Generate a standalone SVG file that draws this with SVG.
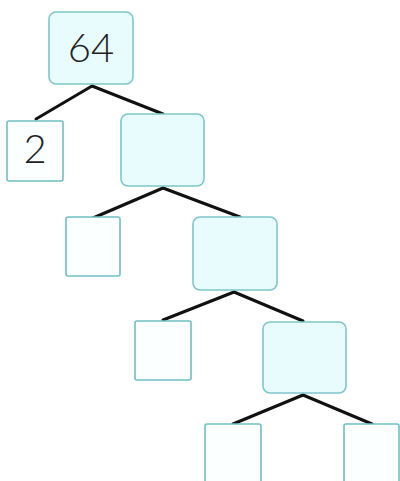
<svg xmlns="http://www.w3.org/2000/svg" width="400" height="481" viewBox="0 0 400 481">
<style>
.big{fill:#e8fbfd;stroke:#7ec6ca;stroke-width:1.6}
.small{fill:#fbffff;stroke:#6fc0c4;stroke-width:1.6}
.edge{stroke:#111;stroke-width:3;stroke-linecap:round;fill:none}
.lbl{font-family:Lato,"Open Sans",sans-serif;font-weight:300;font-size:40px;fill:#222;text-anchor:middle}
</style>
<rect width="400" height="481" fill="#fff"/>
<g id="connectors">
<line class="edge" x1="92" y1="86" x2="36" y2="119"/>
<line class="edge" x1="92" y1="86" x2="163" y2="114"/>
<line class="edge" x1="163" y1="188" x2="93" y2="218"/>
<line class="edge" x1="163" y1="188" x2="240" y2="217"/>
<line class="edge" x1="234" y1="292" x2="163" y2="320"/>
<line class="edge" x1="234" y1="292" x2="303" y2="321"/>
<line class="edge" x1="303" y1="395" x2="233" y2="424"/>
<line class="edge" x1="303" y1="395" x2="372" y2="424"/>
</g>
<g id="n64"><rect class="big" x="49" y="12" width="84" height="72" rx="7"/><text class="lbl" x="91" y="62">64</text></g>
<g id="n2"><rect class="small" x="7" y="121" width="56" height="60" rx="2"/><text class="lbl" x="35" y="163">2</text></g>
<g id="b1"><rect class="big" x="121" y="114" width="83" height="72" rx="7"/></g>
<g id="s1"><rect class="small" x="66" y="217" width="54" height="59" rx="2"/></g>
<g id="b2"><rect class="big" x="193" y="217" width="84" height="73" rx="7"/></g>
<g id="s2"><rect class="small" x="135" y="321" width="56" height="59" rx="2"/></g>
<g id="b3"><rect class="big" x="263" y="322" width="83" height="71" rx="7"/></g>
<g id="s3"><rect class="small" x="205" y="424" width="56" height="62" rx="2"/></g>
<g id="s4"><rect class="small" x="344" y="424" width="55" height="62" rx="2"/></g>
</svg>
